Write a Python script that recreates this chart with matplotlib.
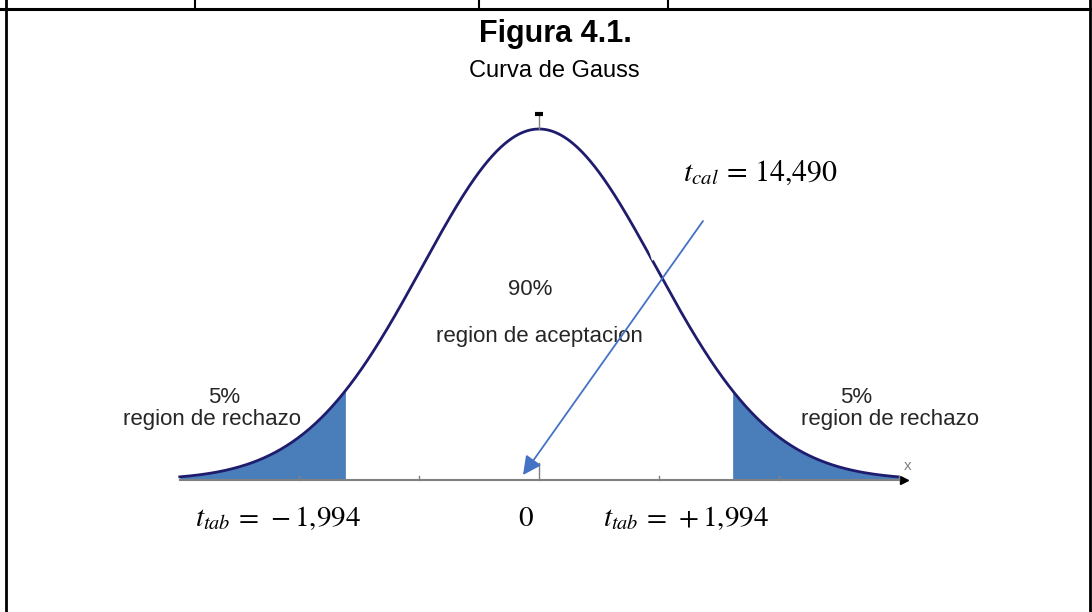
import numpy as np
import matplotlib.pyplot as plt

plt.rcParams['font.family'] = ['Liberation Sans', 'DejaVu Sans']
plt.rcParams['mathtext.fontset'] = 'stix'

# data
z_lim = 3.07          # tails of the curve (in sigma units)
z_crit = 1.645        # 5% in each tail, 90% in the middle
tick_z = [-2.05, -1.025, 1.025, 2.05, 3.075]
pct_tail = "5%"
pct_center = "90%"
lbl_reject = "region de rechazo"
lbl_accept = "region de aceptacion"
t_cal = r"$t_{cal}\,=\,14{,}490$"
t_tab_neg = r"$t_{tab}\,=\,-1{,}994$"
t_tab_pos = r"$t_{tab}\,=\,+1{,}994$"

W, H = 1092, 612
cx, sig_px, base_px, peak_px = 539, 117, 480, 351
pdf_max = 1 / np.sqrt(2 * np.pi)
yscale = peak_px / pdf_max

fig = plt.figure(figsize=(W / 100, H / 100), dpi=100)

# frame axes in pixel coordinates (y from top)
fr = fig.add_axes([0, 0, 1, 1])
fr.set_xlim(0, W)
fr.set_ylim(H, 0)
fr.axis('off')

# curve axes in sigma / pdf units
ax = fig.add_axes([0, 0, 1, 1], facecolor='none')
ax.set_xlim(-cx / sig_px, (W - cx) / sig_px)
ax.set_ylim((base_px - H) / yscale, base_px / yscale)
ax.axis('off')

# table borders
fr.plot([0, W], [9, 9], color='black', lw=2.2)
fr.plot([6, 6], [0, H], color='black', lw=2)
fr.plot([1090, 1090], [0, H], color='black', lw=2)
for xv in [195, 479, 668]:
    fr.plot([xv, xv], [0, 9], color='black', lw=1.5)

fr.text(555, 42, "Figura 4.1.", ha='center', va='baseline', fontsize=22, fontweight='bold')
fr.text(554, 77, "Curva de Gauss", ha='center', va='baseline', fontsize=17)

z = np.linspace(-z_lim, z_lim, 500)
pdf = np.exp(-z ** 2 / 2) * pdf_max

fill_col = '#4a7ebb'
ax.fill_between(z, 0, pdf, where=z <= -z_crit, color=fill_col, lw=0)
ax.fill_between(z, 0, pdf, where=z >= z_crit, color=fill_col, lw=0)
ax.plot(z, pdf, color='#1f1c6e', lw=2)

# x axis
axis_col = '#808080'
ax.plot([-z_lim, z_lim + 0.05], [0, 0], color=axis_col, lw=1.5)
ax.plot([z_lim + 0.05], [0], marker='>', color='black', ms=6)
for tz in tick_z:
    ax.plot([tz, tz], [0, 4 / yscale], color=axis_col, lw=1)
ax.plot([0, 0], [0, 17 / yscale], color=axis_col, lw=1)
ax.text(z_lim + 0.08, 7 / yscale, "x", color=axis_col, fontsize=11, va='bottom', ha='center')

# small mark on top of the peak
ax.plot([0, 0], [pdf_max, pdf_max + 15 / yscale], color=axis_col, lw=1)
ax.plot([0], [pdf_max + 15 / yscale], marker='_', color='black', ms=6, mew=3)

# white notch where the arrow crosses the curve
ax.plot([651, 654], [250, 260], color='white', lw=3, solid_capstyle='butt',
        transform=fr.transData)

# labels
txt_col = '#262626'
fr.text(530, 295, pct_center, ha='center', va='baseline', fontsize=16, color=txt_col)
fr.text(539, 342, lbl_accept, ha='center', va='baseline', fontsize=16, color=txt_col)
fr.text(224, 403, pct_tail, ha='center', va='baseline', fontsize=16, color=txt_col)
fr.text(212, 425, lbl_reject, ha='center', va='baseline', fontsize=16, color=txt_col)
fr.text(856, 403, pct_tail, ha='center', va='baseline', fontsize=16, color=txt_col)
fr.text(890, 425, lbl_reject, ha='center', va='baseline', fontsize=16, color=txt_col)

fr.text(683, 181, t_cal, ha='left', va='baseline', fontsize=21.5)
fr.text(195, 526, t_tab_neg, ha='left', va='baseline', fontsize=21)
fr.text(526, 526, "$0$", ha='center', va='baseline', fontsize=21)
fr.text(603, 526, t_tab_pos, ha='left', va='baseline', fontsize=21)

# arrow from t_cal
ax.annotate("", xy=(523, 475), xytext=(703, 221), xycoords=fr.transData,
            textcoords=fr.transData,
            arrowprops=dict(arrowstyle='-|>', color='#4472c4', lw=1.3,
                            mutation_scale=28, shrinkA=0, shrinkB=0))

fig.savefig("out.png", dpi=100)
